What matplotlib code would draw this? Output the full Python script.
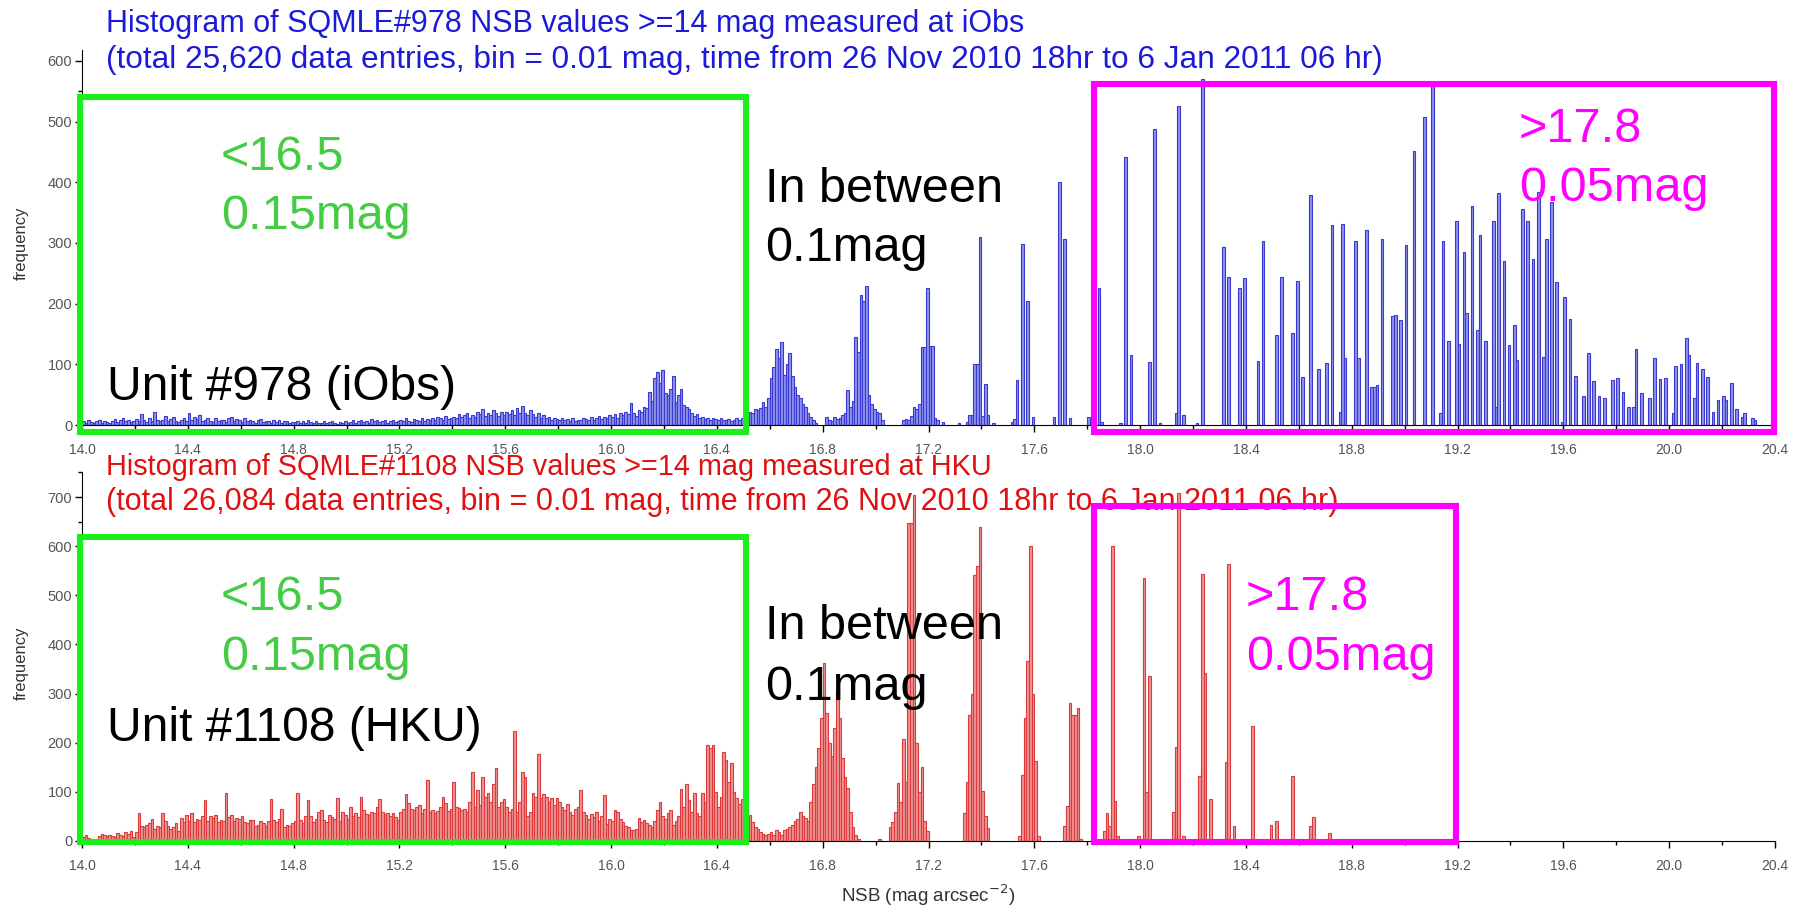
import numpy as np
import matplotlib
matplotlib.use("Agg")
import matplotlib.pyplot as plt
from matplotlib.patches import Rectangle
from matplotlib.ticker import MultipleLocator, FormatStrFormatter

plt.rcParams["font.family"] = ["Liberation Sans", "DejaVu Sans"]

W, H = 1798, 906
BIN = 0.01
NSB_MIN, NSB_MAX = 14.0, 20.4

# --- SQMLE#978 (iObs): dense counts per 0.01 bin from 14.00 to 16.79
top_dense_counts = [
    6, 4, 8, 5, 3, 7, 9, 4, 6, 5,
    4, 7, 10, 5, 8, 12, 6, 9, 5, 7,
    10, 6, 18, 8, 5, 11, 7, 22, 9, 6,
    8, 15, 6, 10, 14, 7, 5, 9, 12, 6,
    20, 8, 14, 10, 16, 6, 9, 11, 7, 5,
    12, 6, 9, 8, 5, 11, 14, 6, 10, 8,
    5, 12, 7, 9, 6, 4, 8, 10, 5, 7,
    6, 4, 9, 5, 8, 3, 6, 7, 4, 5,
    5, 7, 4, 6, 3, 8, 5, 4, 6, 3,
    4, 6, 3, 5, 7, 4, 2, 5, 3, 6,
    3, 5, 8, 4, 6, 9, 5, 7, 4, 10,
    6, 8, 5, 7, 9, 4, 6, 8, 5, 7,
    9, 6, 12, 7, 5, 10, 8, 6, 11, 7,
    10, 8, 12, 9, 14, 11, 8, 15, 10, 12,
    14, 11, 18, 13, 16, 20, 12, 17, 14, 22,
    18, 26, 15, 20, 17, 24, 19, 15, 21, 16,
    22, 18, 25, 17, 28, 20, 32, 19, 16, 24,
    18, 14, 20, 12, 16, 11, 14, 9, 12, 10,
    9, 12, 8, 10, 7, 11, 6, 9, 8, 12,
    10, 8, 13, 9, 11, 15, 10, 14, 12, 16,
    14, 18, 12, 20, 16, 22, 18, 36, 20, 15,
    24, 22, 30, 28, 55, 40, 77, 88, 70, 90,
    52, 49, 60, 80, 38, 50, 60, 33, 30, 27,
    20, 15, 18, 12, 14, 10, 12, 9, 11, 10,
    8, 12, 9, 8, 10, 7, 9, 11, 8, 12,
    14, 18, 22, 20, 27, 25, 28, 38, 30, 45,
    77, 95, 126, 110, 137, 82, 100, 118, 80, 63,
    50, 44, 35, 30, 20, 14, 8, 3, 0, 0,
]

# --- SQMLE#978: separate peaks (bin start, count) above 16.8
top_peak_nsb = [
    16.81, 16.82, 16.83, 16.84, 16.85, 16.86, 16.87, 16.88, 16.89,
    16.90, 16.91, 16.92, 16.93, 16.94, 16.95, 16.96, 16.97, 16.98, 16.99, 17.00, 17.01, 17.02,
    17.10, 17.11, 17.12, 17.13, 17.14, 17.15, 17.16, 17.17, 17.18, 17.19, 17.20, 17.21, 17.22, 17.23, 17.25,
    17.31, 17.34, 17.35, 17.36, 17.37, 17.38, 17.39, 17.40, 17.41, 17.42, 17.44,
    17.51, 17.52, 17.53, 17.55, 17.57, 17.59,
    17.67, 17.69, 17.71, 17.73,
    17.80, 17.82, 17.84, 17.85,
    17.92, 17.94, 17.96,
    18.03, 18.05, 18.07,
    18.13, 18.14, 18.16,
    18.21, 18.23,
    18.31, 18.33, 18.37, 18.39, 18.44, 18.46, 18.51, 18.53, 18.57, 18.59, 18.61, 18.64, 18.67, 18.70,
    18.72, 18.75, 18.76, 18.77, 18.81, 18.82, 18.85, 18.87, 18.88, 18.89, 18.91, 18.95, 18.96, 18.98,
    19.00, 19.03, 19.07, 19.10, 19.13, 19.14, 19.16, 19.19, 19.20, 19.22,
    19.23, 19.25, 19.27, 19.28, 19.30, 19.33, 19.34, 19.35, 19.37, 19.39,
    19.41, 19.42, 19.44, 19.46, 19.48, 19.50, 19.52, 19.53, 19.55, 19.57,
    19.59, 19.60, 19.62, 19.64, 19.67, 19.69, 19.71, 19.73, 19.75, 19.78,
    19.80, 19.82, 19.84, 19.86, 19.87, 19.89, 19.92, 19.94, 19.96, 19.98,
    20.01, 20.02, 20.04, 20.06, 20.07, 20.09, 20.10, 20.12, 20.14, 20.16,
    20.18, 20.20, 20.21, 20.23, 20.25, 20.27, 20.28, 20.31, 20.32,
]
top_peak_counts = [
    14, 8, 6, 14, 10, 12, 16, 20, 58,
    30, 40, 145, 120, 214, 205, 229, 49, 35, 27, 22, 19, 8,
    8, 10, 8, 15, 30, 27, 35, 129, 128, 226, 131, 131, 11, 8, 5,
    3, 5, 16, 16, 101, 101, 310, 15, 68, 16, 4,
    5, 10, 74, 299, 205, 14,
    14, 400, 307, 11,
    14, 392, 225, 5,
    4, 441, 115,
    104, 488, 4,
    19, 526, 16,
    4, 570,
    293, 244, 226, 242, 105, 303, 148, 244, 151, 238, 79, 379, 93, 103,
    330, 22, 332, 110, 304, 110, 321, 63, 63, 66, 307, 179, 182, 173,
    296, 451, 507, 559, 19, 304, 138, 336, 134, 285,
    184, 361, 156, 313, 138, 336, 30, 383, 271, 132,
    164, 107, 356, 336, 274, 384, 112, 307, 367, 235,
    5, 211, 175, 81, 47, 118, 72, 47, 44, 74,
    78, 55, 29, 29, 126, 52, 45, 110, 76, 78,
    19, 98, 100, 143, 116, 45, 103, 93, 79, 22,
    41, 47, 41, 70, 27, 14, 19, 12, 8,
]

# --- SQMLE#1108 (HKU): dense counts per 0.01 bin from 14.00 to 16.99
bot_dense_counts = [
    8, 12, 6, 5, 4, 3, 10, 14, 12, 10,
    13, 11, 9, 16, 12, 10, 18, 14, 20, 8,
    18, 56, 30, 28, 32, 36, 44, 25, 30, 28,
    56, 40, 30, 24, 28, 36, 20, 46, 38, 53,
    40, 56, 38, 44, 43, 50, 83, 40, 50, 46,
    53, 38, 43, 40, 97, 48, 53, 40, 46, 44,
    50, 38, 36, 42, 43, 30, 33, 40, 36, 30,
    40, 85, 43, 38, 45, 66, 28, 33, 30, 36,
    40, 97, 43, 36, 50, 83, 50, 38, 45, 60,
    63, 43, 38, 53, 48, 45, 87, 40, 60, 52,
    45, 70, 50, 56, 48, 89, 63, 55, 53, 60,
    58, 70, 85, 60, 55, 58, 50, 56, 48, 43,
    60, 66, 95, 77, 65, 63, 70, 73, 58, 66,
    124, 60, 63, 58, 62, 70, 89, 77, 62, 66,
    121, 70, 68, 63, 66, 60, 80, 141, 70, 104,
    73, 131, 90, 97, 80, 117, 148, 70, 80, 85,
    70, 60, 65, 224, 60, 80, 141, 131, 50, 60,
    97, 90, 178, 87, 95, 90, 80, 87, 73, 87,
    80, 70, 63, 75, 60, 53, 65, 70, 104, 60,
    53, 45, 55, 48, 60, 40, 50, 93, 35, 45,
    40, 63, 59, 45, 39, 30, 28, 22, 22, 25,
    46, 38, 43, 36, 32, 29, 40, 63, 80, 50,
    45, 56, 63, 32, 40, 50, 106, 70, 117, 83,
    60, 97, 56, 50, 97, 80, 196, 190, 196, 100,
    70, 90, 181, 165, 120, 158, 100, 88, 75, 86,
    60, 45, 52, 38, 29, 25, 19, 15, 12, 14,
    18, 12, 22, 18, 12, 22, 25, 28, 32, 40,
    45, 59, 50, 46, 40, 80, 117, 150, 190, 250,
    362, 261, 200, 173, 230, 308, 250, 169, 130, 108,
    60, 29, 12, 5, 0, 0, 0, 0, 0, 0,
]

# --- SQMLE#1108: separate peaks (bin start, count) above 17.0
bot_peak_nsb = [
    17.01, 17.05, 17.06, 17.07, 17.08, 17.09, 17.10, 17.11, 17.12, 17.13, 17.14, 17.15, 17.16, 17.17, 17.18, 17.19,
    17.33, 17.34, 17.35, 17.36, 17.37, 17.38, 17.39, 17.40, 17.41, 17.42,
    17.54, 17.55, 17.56, 17.57, 17.58, 17.59, 17.60, 17.61,
    17.71, 17.72, 17.73, 17.74, 17.75, 17.76, 17.77,
    17.86, 17.87, 17.88, 17.89, 17.90, 17.91,
    17.99, 18.01, 18.02, 18.03,
    18.12, 18.13, 18.14, 18.16,
    18.22, 18.23, 18.24, 18.26,
    18.32, 18.33, 18.35,
    18.42, 18.49, 18.51, 18.57, 18.64, 18.65, 18.71,
]
bot_peak_counts = [
    5, 29, 39, 60, 119, 80, 207, 120, 647, 647, 705, 200, 100, 150, 40, 20,
    58, 120, 257, 300, 542, 560, 640, 102, 50, 27,
    10, 135, 250, 366, 600, 300, 163, 10,
    30, 71, 281, 257, 257, 271, 5,
    20, 58, 30, 600, 81, 10,
    10, 535, 100, 335,
    60, 191, 708, 10,
    132, 543, 342, 85,
    161, 564, 30,
    235, 32, 41, 132, 30, 49, 16,
]

assert len(top_peak_nsb) == len(top_peak_counts)
assert len(bot_peak_nsb) == len(bot_peak_counts)


def build_counts(dense, peak_nsb, peak_counts):
    nbins = int(round((NSB_MAX - NSB_MIN) / BIN))
    counts = np.zeros(nbins)
    counts[:len(dense)] = dense
    for m, c in zip(peak_nsb, peak_counts):
        counts[int(round((m - NSB_MIN) / BIN))] = c
    edges = NSB_MIN + np.arange(nbins) * BIN
    return edges, counts


def px_axes(left, top, right, bottom):
    return fig.add_axes([left / W, 1 - bottom / H, (right - left) / W, (bottom - top) / H])


def ftext(x, y, s, **kw):
    fig.text(x / W, 1 - y / H, s, **kw)


def frame(x0, y0, x1, y1, color):
    fig.add_artist(Rectangle((x0 / W, 1 - y1 / H), (x1 - x0) / W, (y1 - y0) / H,
                             transform=fig.transFigure, fill=False,
                             edgecolor=color, linewidth=4.4, zorder=5))


def style(ax, ymax):
    ax.set_xlim(NSB_MIN, NSB_MAX)
    ax.set_ylim(0, ymax)
    for s in ("top", "right"):
        ax.spines[s].set_visible(False)
    ax.xaxis.set_major_locator(MultipleLocator(0.4))
    ax.xaxis.set_minor_locator(MultipleLocator(0.2))
    ax.xaxis.set_major_formatter(FormatStrFormatter("%.1f"))
    ax.yaxis.set_major_locator(MultipleLocator(100))
    ax.yaxis.set_minor_locator(MultipleLocator(50))
    ax.tick_params(axis="x", which="major", length=5, width=1, pad=8,
                   labelsize=10, labelcolor="#555555")
    ax.tick_params(axis="y", which="major", length=5, width=1, pad=2,
                   labelsize=10.5, labelcolor="#555555")
    ax.tick_params(which="minor", length=3, width=1)
    ax.patch.set_alpha(0)


fig = plt.figure(figsize=(W / 100, H / 100), dpi=100)

# top histogram
ax1 = px_axes(82, 50, 1775, 425)
x, y = build_counts(top_dense_counts, top_peak_nsb, top_peak_counts)
m = y > 0
ax1.bar(x[m], y[m], width=BIN, align="edge", facecolor="#8e92ea",
        edgecolor="#3a3ad2", linewidth=0.8)
style(ax1, 618)

# bottom histogram
ax2 = px_axes(82, 472, 1775, 841)
x, y = build_counts(bot_dense_counts, bot_peak_nsb, bot_peak_counts)
m = y > 0
ax2.bar(x[m], y[m], width=BIN, align="edge", facecolor="#f09494",
        edgecolor="#dc3a3a", linewidth=0.8)
style(ax2, 751)

ftext(21, 243, "frequency", rotation=90, ha="center", va="center", fontsize=12, color="#333333")
ftext(21, 663, "frequency", rotation=90, ha="center", va="center", fontsize=12, color="#333333")
ftext(928, 895, r"NSB (mag arcsec$^{-2}$)", ha="center", va="center", fontsize=13.5, color="#333333")

# titles
ftext(106, 32, "Histogram of SQMLE#978 NSB values >=14 mag measured at iObs",
      fontsize=22, color="#1a1ad8", va="baseline")
ftext(106, 68, "(total 25,620 data entries, bin = 0.01 mag, time from 26 Nov 2010 18hr to 6 Jan 2011 06 hr)",
      fontsize=22.8, color="#1a1ad8", va="baseline")
ftext(106, 475, "Histogram of SQMLE#1108 NSB values >=14 mag measured at HKU",
      fontsize=20.8, color="#e01010", va="baseline")
ftext(106, 510, "(total 26,084 data entries, bin = 0.01 mag, time from 26 Nov 2010 18hr to 6 Jan 2011 06 hr)",
      fontsize=22, color="#e01010", va="baseline")

# highlight frames
GREEN, MAGENTA, TGREEN = "#1cee1c", "#ff00ff", "#44cc44"
frame(80, 97, 746, 432, GREEN)
frame(1094, 84, 1774, 432, MAGENTA)
frame(80, 537, 746, 842, GREEN)
frame(1094, 506, 1456, 842, MAGENTA)

BIG = 35
ftext(221, 170, "<16.5", fontsize=BIG, color=TGREEN, va="baseline")
ftext(221, 229, "0.15mag", fontsize=BIG, color=TGREEN, va="baseline")
ftext(765, 202, "In between", fontsize=BIG, color="black", va="baseline")
ftext(765, 261, "0.1mag", fontsize=BIG, color="black", va="baseline")
ftext(1519, 142, ">17.8", fontsize=BIG, color=MAGENTA, va="baseline")
ftext(1519, 201, "0.05mag", fontsize=BIG, color=MAGENTA, va="baseline")
ftext(107, 400, "Unit #978 (iObs)", fontsize=34.5, color="black", va="baseline")

ftext(221, 610, "<16.5", fontsize=BIG, color=TGREEN, va="baseline")
ftext(221, 670, "0.15mag", fontsize=BIG, color=TGREEN, va="baseline")
ftext(765, 639, "In between", fontsize=BIG, color="black", va="baseline")
ftext(765, 700, "0.1mag", fontsize=BIG, color="black", va="baseline")
ftext(1246, 610, ">17.8", fontsize=BIG, color=MAGENTA, va="baseline")
ftext(1246, 670, "0.05mag", fontsize=BIG, color=MAGENTA, va="baseline")
ftext(107, 741, "Unit #1108 (HKU)", fontsize=34.5, color="black", va="baseline")

fig.savefig("out.png", dpi=100)
